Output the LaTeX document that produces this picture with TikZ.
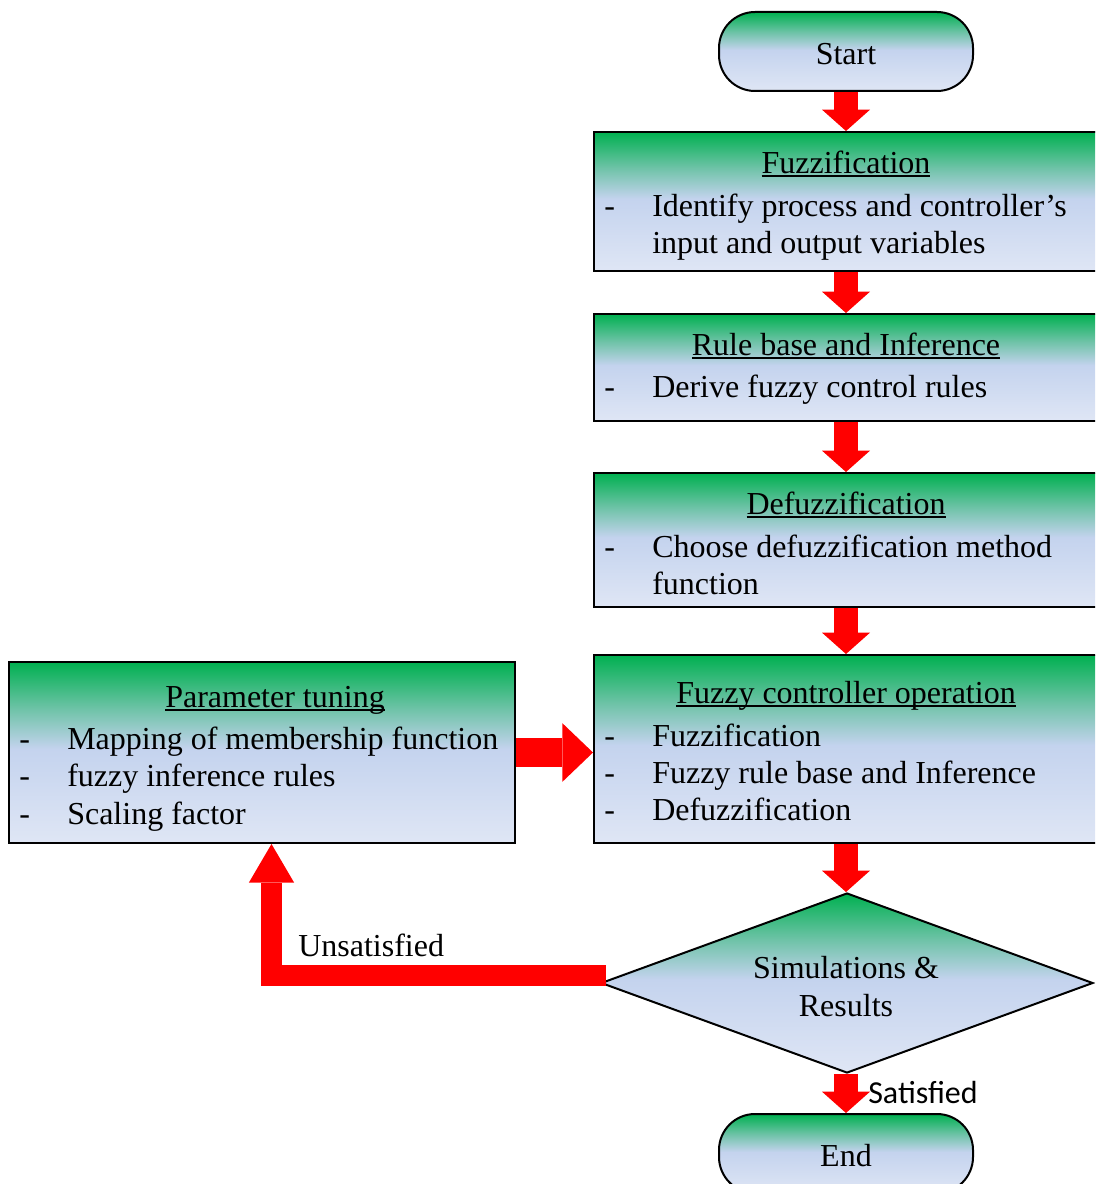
\documentclass[tikz,border=0pt]{standalone}
\usepackage{fontspec}
\setmainfont{Liberation Serif}
\newfontfamily\calibfont{Carlito}
\newcommand{\myul}[1]{\setbox0\hbox{#1}\rlap{\rule[-3pt]{\wd0}{1.3pt}}\box0}
\usetikzlibrary{shapes.geometric,arrows.meta,calc}
\definecolor{gTop}{HTML}{00B050}
\definecolor{gTeal}{HTML}{6FC3A8}
\definecolor{gMid}{HTML}{C4D3EE}
\definecolor{gBot}{HTML}{DFE6F5}
\definecolor{flowred}{HTML}{FF0000}
\pgfdeclareverticalshading{boxgrad}{100bp}{color(0bp)=(gBot); color(25bp)=(gBot); color(51bp)=(gMid); color(62bp)=(gTeal); color(75bp)=(gTop); color(100bp)=(gTop)}
\begin{document}
\begin{tikzpicture}[x=0.75pt,y=-0.75pt,
  font=\fontsize{24}{27.75}\selectfont,
  box/.style={draw=black, line width=1.5pt, shading=boxgrad, rectangle, inner sep=0pt},
  termbox/.style={box, rounded corners=27pt, minimum width=190.5pt, minimum height=59.25pt},
  rbox/.style={box, minimum width=378pt},
  decbox/.style={draw=black, line width=1.5pt, shading=boxgrad, diamond, inner sep=0pt, minimum width=369pt, minimum height=135pt},
  txt/.style={inner sep=0pt, anchor=base west},
  ttl/.style={inner sep=0pt, anchor=base},
  flow/.style={draw=flowred, line width=18pt, -{Triangle[length=16pt, width=36pt, line width=0pt]}},
  flowH/.style={draw=flowred, line width=22pt, -{Triangle[length=23pt, width=44pt, line width=0pt]}},
  flowU/.style={draw=flowred, line width=15.75pt, line join=miter, -{Triangle[length=29pt, width=34pt, line width=0pt]}}
]
\clip (0,0) rectangle (1095,1184);

% shapes
\node[termbox] (start) at (846,51.5) {};
\node[rbox, minimum height=104.25pt] (fz) at (846,201.5) {};
\node[rbox, minimum height=80.25pt] (rb) at (846,367.5) {};
\node[rbox, minimum height=100.5pt] (df) at (846,540) {};
\node[rbox, minimum height=141pt] (fco) at (846,749) {};
\node[box, minimum width=379.5pt, minimum height=135.75pt] (pt) at (262,752.5) {};
\node[decbox] (sim) at (847,983) {};
\node[termbox] (end) at (846,1153.5) {};

% texts
\node[ttl] (startT) at (846,65) {Start};

\node[ttl] (fzT) at (846,173) {\myul{Fuzzification}};
\node[txt] (fzD) at (604,216) {-};
\node[txt] (fz1) at (652,216) {Identify process and controller’s};
\node[txt] (fz2) at (652,253) {input and output variables};

\node[ttl] (rbT) at (846,355) {\myul{Rule base and Inference}};
\node[txt] (rbD) at (604,397) {-};
\node[txt] (rb1) at (652,397) {Derive fuzzy control rules};

\node[ttl] (dfT) at (846,514) {\myul{Defuzzification}};
\node[txt] (dfD) at (604,557) {-};
\node[txt] (df1) at (652,557) {Choose defuzzification method};
\node[txt] (df2) at (652,594) {function};

\node[ttl] (fcoT) at (846,703) {\myul{Fuzzy controller operation}};
\node[txt] (fcoD1) at (604,746) {-};
\node[txt] (fco1) at (652,746) {Fuzzification};
\node[txt] (fcoD2) at (604,783) {-};
\node[txt] (fco2) at (652,783) {Fuzzy rule base and Inference};
\node[txt] (fcoD3) at (604,820) {-};
\node[txt] (fco3) at (652,820) {Defuzzification};

\node[ttl] (ptT) at (275,707) {\myul{Parameter tuning}};
\node[txt] (ptD1) at (19,749) {-};
\node[txt] (pt1) at (67,749) {Mapping of membership function};
\node[txt] (ptD2) at (19,786) {-};
\node[txt] (pt2) at (67,786) {fuzzy inference rules};
\node[txt] (ptD3) at (19,824) {-};
\node[txt] (pt3) at (67,824) {Scaling factor};

\node[ttl] (sim1) at (846,978) {Simulations \&};
\node[ttl] (sim2) at (846,1016) {Results};

\node[ttl] (endT) at (846,1166) {End};

\node[txt] (unsat) at (298,956) {Unsatisfied};
\node[txt, font=\calibfont\fontsize{24}{27.75}\selectfont] (sat) at (868,1103) {Satisfied};

% connectors
\draw[flow] (start.south) -- (fz.north);
\draw[flow] (fz.south) -- (rb.north);
\draw[flow] (rb.south) -- (df.north);
\draw[flow] (df.south) -- (fco.north);
\draw[flow] (fco.south) -- (fco.south |- sim.north);
\draw[flow] (sim.south -| end.north) -- (end.north);
\draw[flowH] (pt.east) -- (pt.east -| fco.west);
\coordinate (uStart) at ($(sim.west)+(6,-7.5)$);
\coordinate (uEnd) at ($(pt.south)+(9.5,0)$);
\draw[flowU] (uStart) -| (uEnd);
\end{tikzpicture}
\end{document}
